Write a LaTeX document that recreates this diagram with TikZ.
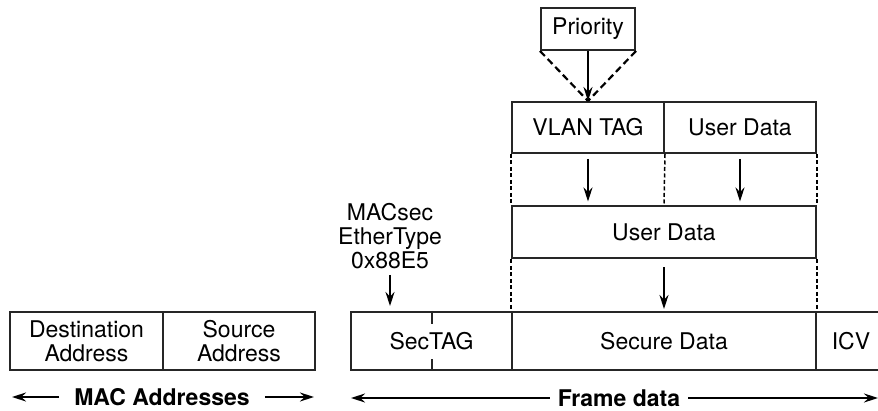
\documentclass[tikz,border=0pt]{standalone}
\usepackage{fontspec}
\setmainfont{TeX Gyre Heros}
\usepackage{tikz}
\usetikzlibrary{arrows.meta, positioning}
\tikzstyle{field} = [rectangle, draw=black!85, line width=2pt, inner sep=0pt, text centered, font=\fontsize{23}{24}\selectfont]
\tikzstyle{label} = [inner sep=0pt, align=center, font=\fontsize{23}{24}\selectfont]
\tikzstyle{span} = [inner sep=0pt, font=\fontsize{23}{24}\selectfont\bfseries]
\tikzstyle{arrow} = [line width=1.5pt, -{Stealth[length=14pt,width=9pt]}]
\tikzstyle{guide} = [line width=1.5pt, dash pattern=on 4pt off 2.5pt]
\tikzstyle{wideguide} = [line width=2.2pt, dash pattern=on 7pt off 4pt]

\begin{document}
\begin{tikzpicture}[x=1pt, y=-1pt]
\clip (0,0) rectangle (878,411);
\node (priority) [field, minimum width=94pt, minimum height=42pt] at (588,29) {Priority};
\node (vlantag) [field, minimum width=152pt, minimum height=51pt] at (588,127.5) {VLAN TAG};
\node (userdatain) [field, minimum width=152pt, minimum height=51pt] at (740,127.5) {User Data};
\node (userdata) [field, minimum width=304pt, minimum height=52pt] at (664,232.5) {User Data};
\node (dest) [field, minimum width=153pt, minimum height=58pt, align=center] at (86.5,341) {Destination\\Address};
\node (source) [field, minimum width=152pt, minimum height=58pt, align=center] at (239,341) {Source\\Address};
\node (sectag) [field, minimum width=161pt, minimum height=58pt] at (431.5,341) {SecTAG};
\node (secure) [field, minimum width=304pt, minimum height=58pt] at (664,341) {Secure Data};
\node (icv) [field, minimum width=70pt, minimum height=58pt] at (851,341) {ICV};
\node (macsec) [label] at (390,236) {MACsec\\EtherType\\0x88E5};
\node (macaddr) [span] at (162,397) {MAC Addresses};
\node (framedata) [span] at (619,398) {Frame data};
\coordinate (macleft) at (12,397);
\coordinate (macright) at (314,397);
\coordinate (frameleft) at (351,398);
\coordinate (frameright) at (878,398);
% SecTAG tick marks
\draw [line width=2pt, black!85] ([xshift=0.5pt]sectag.north) -- ++(0,13);
\draw [line width=2pt, black!85] ([xshift=0.5pt]sectag.south) -- ++(0,-12);
% priority field inside the VLAN tag
\draw [wideguide] (priority.south west) -- (vlantag.north);
\draw [wideguide] (priority.south east) -- (vlantag.north);
\draw [arrow] (priority.south) -- (vlantag.north);
% tag and data collapse into user data
\draw [guide] (vlantag.south west) -- (userdata.north west);
\draw [guide] (vlantag.south east) -- (userdata.north);
\draw [guide] (userdatain.south east) -- (userdata.north east);
\draw [arrow, shorten <=5pt, shorten >=4pt] (vlantag.south) -- (vlantag.south |- userdata.north);
\draw [arrow, shorten <=5pt, shorten >=4pt] (userdatain.south) -- (userdatain.south |- userdata.north);
% user data is secured
\draw [guide] (userdata.south west) -- (secure.north west);
\draw [guide] (userdata.south east) -- (secure.north east);
\draw [arrow, shorten <=8pt, shorten >=2pt] (userdata.south) -- (secure.north);
\draw [arrow, shorten <=6pt, shorten >=5pt] (macsec.south) -- (macsec.south |- sectag.north);
% spans
\draw [arrow, shorten <=15pt] (macaddr.west) -- (macleft);
\draw [arrow, shorten <=15pt] (macaddr.east) -- (macright);
\draw [arrow, shorten <=8pt] (framedata.west) -- (frameleft);
\draw [arrow, shorten <=8pt] (framedata.east) -- (frameright);
\end{tikzpicture}
\end{document}
